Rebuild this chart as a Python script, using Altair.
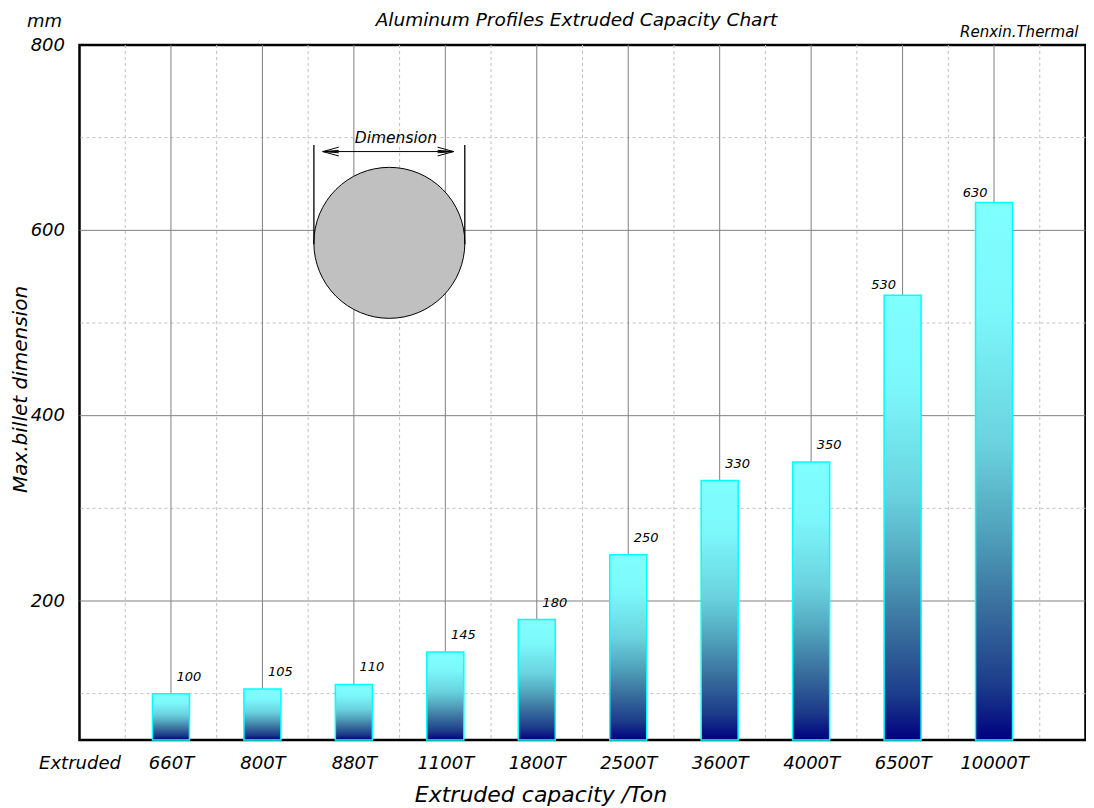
import altair as alt
import pandas as pd

# ---- data ----
categories = ["660T", "800T", "880T", "1100T", "1800T", "2500T", "3600T", "4000T", "6500T", "10000T"]
values = [100, 105, 110, 145, 180, 250, 330, 350, 530, 630]
first_label = "Extruded"
y_ticks = [200, 400, 600, 800]
y_major_grid = [200, 400, 600]
y_minor_grid = [100, 300, 500, 700]
x_major_grid = [1, 2, 3, 4, 5, 6, 7, 8, 9, 10]
x_minor_grid = [0.5, 1.5, 2.5, 3.5, 4.5, 5.5, 6.5, 7.5, 8.5, 9.5, 10.5]
x_domain = [0, 11]
y_domain = [50, 800]
base_value = 50

chart_title = "Aluminum Profiles Extruded Capacity Chart"
brand_text = "Renxin.Thermal"
unit_text = "mm"

# billet sketch (in chart units)
circle_x = [3.388]
circle_y = [586.5]
dim_lines_x = [2.563, 4.213]
dim_lines_y_top = [692, 692]
dim_lines_y_bot = [585, 585]
arrow_x1 = [2.66]
arrow_x2 = [4.09]
arrow_y = [685]
dim_text_x = [3.46]
dim_text_y = [700]

FONT = "DejaVu Sans"

bars_df = pd.DataFrame({
    "idx": list(range(1, len(categories) + 1)),
    "cat": categories,
    "value": values,
    "base": [base_value] * len(values),
})

all_labels = [first_label] + categories
label_expr = "[" + ",".join("'%s'" % s for s in all_labels) + "][datum.value]"

xs = alt.Scale(domain=x_domain, nice=False, zero=False, padding=0)
ys = alt.Scale(domain=y_domain, nice=False, zero=False, padding=0)

x_axis = alt.Axis(
    values=list(range(0, len(all_labels))), labelExpr=label_expr,
    title="Extruded capacity /Ton", grid=False, ticks=False, domain=False,
    labelFont=FONT, labelFontStyle="italic", labelFontSize=18, labelColor="black",
    labelPadding=14, labelBaseline="top", labelFlush=False, labelOverlap=False,
    titleFont=FONT, titleFontStyle="italic", titleFontSize=22, titleFontWeight="normal",
    titleColor="black", titleX=461, titleY=54, titleBaseline="middle", titleAlign="center",
)
y_axis = alt.Axis(
    values=y_ticks, grid=False, ticks=False, domain=False,
    title="Max.billet dimension", labelFlush=False, labelOverlap=False,
    labelFont=FONT, labelFontStyle="italic", labelFontSize=18, labelColor="black",
    labelPadding=15, labelBaseline="middle",
    titleFont=FONT, titleFontStyle="italic", titleFontSize=20, titleFontWeight="normal",
    titleColor="black", titleX=-59, titleY=344, titleBaseline="middle", titleAlign="center",
)


def X(f):
    return alt.X(f, scale=xs, axis=x_axis)


def Y(f):
    return alt.Y(f, scale=ys, axis=y_axis)


vminor = alt.Chart(pd.DataFrame({"x": x_minor_grid})).mark_rule(
    color="#c0c0c0", strokeDash=[3, 3], strokeWidth=1
).encode(x=X("x:Q"))
vmajor = alt.Chart(pd.DataFrame({"x": x_major_grid})).mark_rule(
    color="#808080", strokeWidth=1
).encode(x=X("x:Q"))
hminor = alt.Chart(pd.DataFrame({"y": y_minor_grid})).mark_rule(
    color="#c0c0c0", strokeDash=[3, 3], strokeWidth=1
).encode(y=Y("y:Q"))
hmajor = alt.Chart(pd.DataFrame({"y": y_major_grid})).mark_rule(
    color="#808080", strokeWidth=1
).encode(y=Y("y:Q"))

grad = alt.Gradient(
    gradient="linear",
    stops=[
        alt.GradientStop(color="#80FFFF", offset=0),
        alt.GradientStop(color="#7CF8FB", offset=0.2),
        alt.GradientStop(color="#6AD2DE", offset=0.45),
        alt.GradientStop(color="#52A6BE", offset=0.6),
        alt.GradientStop(color="#3A709E", offset=0.75),
        alt.GradientStop(color="#1C3B8A", offset=0.9),
        alt.GradientStop(color="#000080", offset=1),
    ],
    x1=0, x2=0, y1=0, y2=1,
)

bars = alt.Chart(bars_df).mark_bar(
    fill=grad, stroke="#00FFFF", strokeWidth=1.5, size=37
).encode(
    x=X("idx:Q"),
    y=Y("value:Q"),
    y2="base:Q",
)

labels_right = alt.Chart(bars_df).transform_filter("datum.value < 500").mark_text(
    font=FONT, fontStyle="italic", fontSize=13, color="black", dx=18, dy=-17
).encode(x=X("idx:Q"), y=Y("value:Q"), text="value:Q")
labels_left = alt.Chart(bars_df).transform_filter("datum.value >= 500").mark_text(
    font=FONT, fontStyle="italic", fontSize=13, color="black", dx=-19, dy=-10
).encode(x=X("idx:Q"), y=Y("value:Q"), text="value:Q")

circle = alt.Chart(pd.DataFrame({"x": circle_x, "y": circle_y})).mark_point(
    shape="circle", filled=True, fill="#C0C0C0", stroke="black", strokeWidth=1,
    size=151 * 151, opacity=1
).encode(x=X("x:Q"), y=Y("y:Q"))

dim_lines = alt.Chart(pd.DataFrame({"x": dim_lines_x, "y": dim_lines_y_top, "y2": dim_lines_y_bot})).mark_rule(
    color="black", strokeWidth=1.3
).encode(x=X("x:Q"), y=Y("y:Q"), y2="y2:Q")

arrow = alt.Chart(pd.DataFrame({"x": arrow_x1, "x2": arrow_x2, "y": arrow_y})).mark_rule(
    color="black", strokeWidth=1
).encode(x=X("x:Q"), x2="x2:Q", y=Y("y:Q"))

head_left = alt.Chart(pd.DataFrame({"x": arrow_x1, "y": arrow_y})).mark_point(
    shape="M-1,0 L1,-0.55 M-1,0 L1,0.55 M-1,0 L1,0.15 M-1,0 L1,-0.15",
    filled=False, stroke="black", strokeWidth=1, size=256, opacity=1
).encode(x=X("x:Q"), y=Y("y:Q"), xOffset=alt.value(8))
head_right = alt.Chart(pd.DataFrame({"x": arrow_x2, "y": arrow_y})).mark_point(
    shape="M1,0 L-1,-0.55 M1,0 L-1,0.55 M1,0 L-1,0.15 M1,0 L-1,-0.15",
    filled=False, stroke="black", strokeWidth=1, size=256, opacity=1
).encode(x=X("x:Q"), y=Y("y:Q"), xOffset=alt.value(-8))

dim_text = alt.Chart(pd.DataFrame({"x": dim_text_x, "y": dim_text_y, "t": ["Dimension"]})).mark_text(
    font=FONT, fontStyle="italic", fontSize=15.5, color="black"
).encode(x=X("x:Q"), y=Y("y:Q"), text="t:N")

mm_text = alt.Chart(pd.DataFrame({"t": [unit_text]})).mark_text(
    font=FONT, fontStyle="italic", fontSize=18, color="black", align="center", baseline="middle"
).encode(x=alt.value(-35), y=alt.value(-23), text="t:N")

brand = alt.Chart(pd.DataFrame({"t": [brand_text]})).mark_text(
    font=FONT, fontStyle="italic", fontSize=15, color="black", align="right", baseline="middle"
).encode(x=alt.value(999), y=alt.value(-13), text="t:N")

title_mark = alt.Chart(pd.DataFrame({"t": [chart_title]})).mark_text(
    font=FONT, fontStyle="italic", fontSize=18.5, color="black", align="center", baseline="middle"
).encode(x=alt.value(497), y=alt.value(-25), text="t:N")

chart = alt.layer(
    vminor, hminor, vmajor, hmajor, circle, dim_lines, arrow, head_left, head_right, dim_text,
    bars, labels_right, labels_left, mm_text, brand, title_mark
).properties(
    width=1006, height=695,
    autosize=alt.AutoSizeParams(type="none"),
    padding={"left": 71.5, "top": 37, "right": 0, "bottom": 68},
    background="white",
).configure_view(
    stroke="black", strokeWidth=2.5
)

chart.save("out.html", embed_options={"renderer": "svg", "actions": False})
